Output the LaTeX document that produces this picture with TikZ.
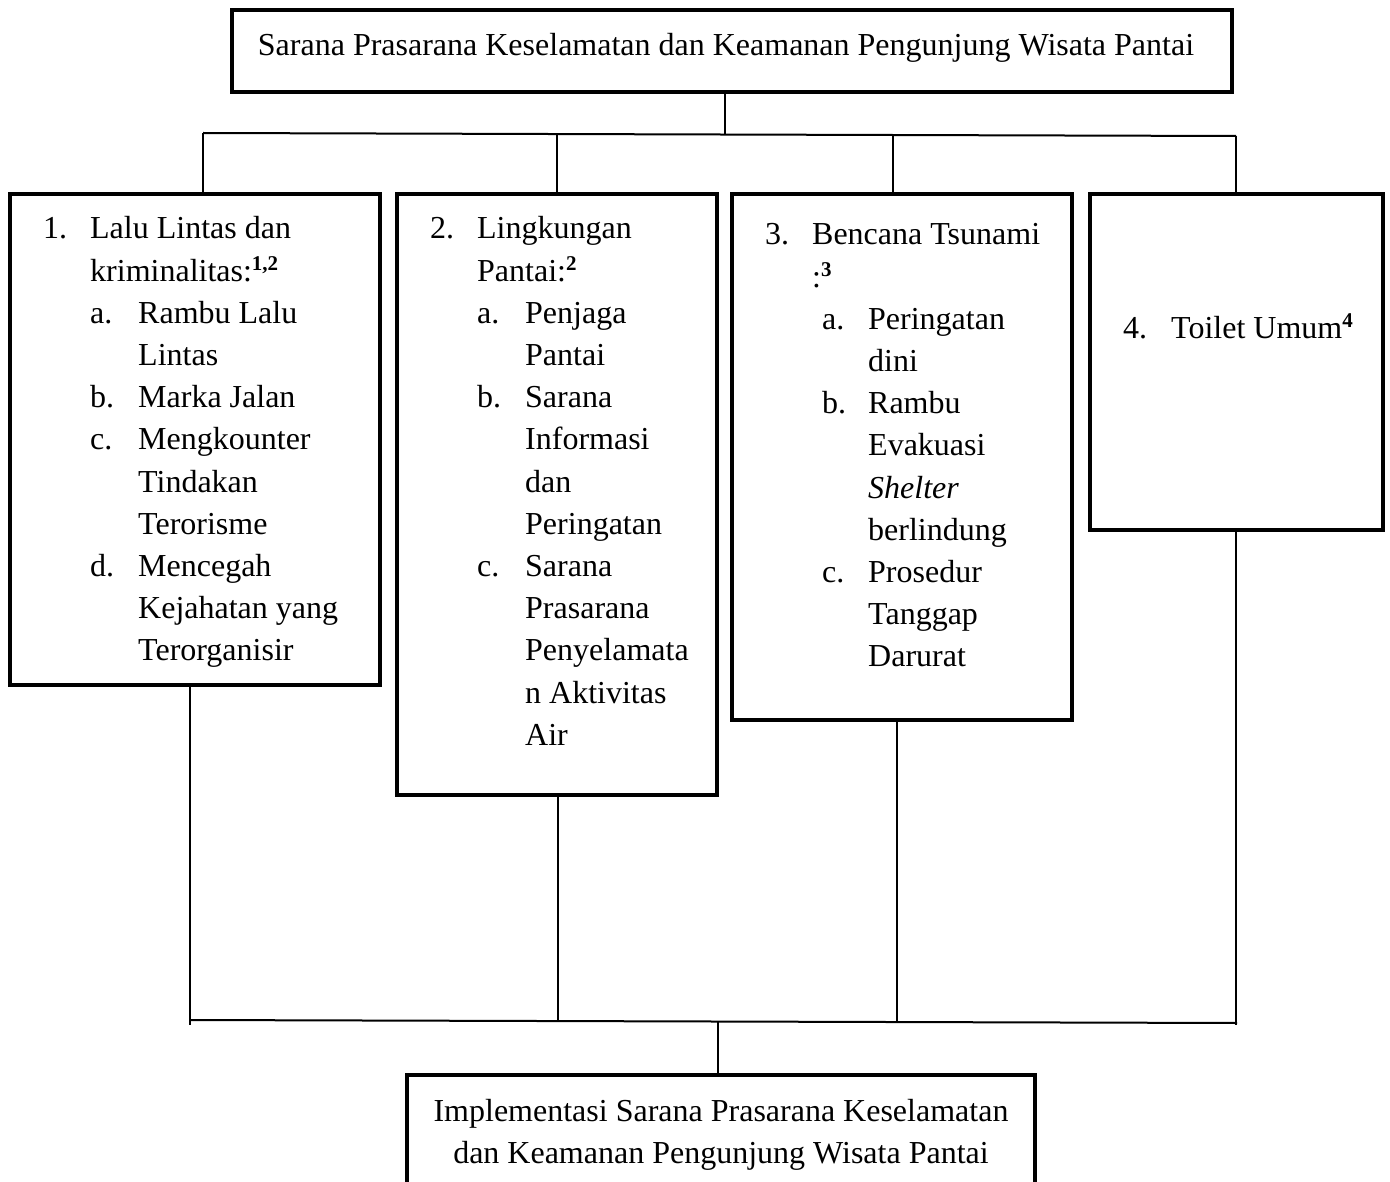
\documentclass[tikz,border=0pt]{standalone}
\usepackage{fontspec}
\setmainfont{Liberation Serif}
\usepackage{array}
\newcommand\bodyfont{\fontsize{32}{42.2}\selectfont}
\newcommand\fsup[1]{\raisebox{11pt}{\fontsize{21}{21}\selectfont\textbf{#1}}}
\newcommand\mc[1]{\multicolumn{2}{@{}l@{}}{#1}}
\begin{document}
\begin{tikzpicture}[x=1pt,y=-1pt,
  box/.style={draw, line width=4.5pt, inner sep=0pt, fill=white},
  txt/.style={anchor=base west, inner sep=0pt, font=\bodyfont},
  conn/.style={line width=1.5pt},
  hconn/.style={line width=2pt}]
\useasboundingbox (0,0) rectangle (1390,1182);
% boxes
\node[box, minimum width=1000pt, minimum height=82pt] (top) at (732,51) {};
\node[box, minimum width=370pt, minimum height=491pt] (b1) at (195,439.5) {};
\node[box, minimum width=320pt, minimum height=601pt] (b2) at (557,494.5) {};
\node[box, minimum width=340pt, minimum height=526pt] (b3) at (902,457) {};
\node[box, minimum width=293pt, minimum height=336pt] (b4) at (1236.5,362) {};
\node[box, minimum width=628pt, minimum height=175pt] (bot) at (721,1162.5) {};
% texts
\node[txt, anchor=base] (ttop) at (726,56) {Sarana Prasarana Keselamatan dan Keamanan Pengunjung Wisata Pantai};
\node[txt] (t1) at (43,239) {\begin{tabular}[t]{@{}p{47pt}@{}p{48pt}@{}l@{}}
1.&\mc{Lalu Lintas dan}\\
&\mc{kriminalitas:\fsup{1,2}}\\
&a.&Rambu Lalu\\
&&Lintas\\
&b.&Marka Jalan\\
&c.&Mengkounter\\
&&Tindakan\\
&&Terorisme\\
&d.&Mencegah\\
&&Kejahatan yang\\
&&Terorganisir
\end{tabular}};
\node[txt] (t2) at (430,239) {\begin{tabular}[t]{@{}p{47pt}@{}p{48pt}@{}l@{}}
2.&\mc{Lingkungan}\\
&\mc{Pantai:\fsup{2}}\\
&a.&Penjaga\\
&&Pantai\\
&b.&Sarana\\
&&Informasi\\
&&dan\\
&&Peringatan\\
&c.&Sarana\\
&&Prasarana\\
&&Penyelamata\\
&&n Aktivitas\\
&&Air
\end{tabular}};
\node[txt] (t3) at (765,245) {\begin{tabular}[t]{@{}p{47pt}@{}p{56pt}@{}l@{}}
3.&\mc{Bencana Tsunami}\\
&\mc{:\fsup{3}}\\
&\hspace*{10pt}a.&Peringatan\\
&&dini\\
&\hspace*{10pt}b.&Rambu\\
&&Evakuasi\\
&&\textit{Shelter}\\
&&berlindung\\
&\hspace*{10pt}c.&Prosedur\\
&&Tanggap\\
&&Darurat
\end{tabular}};
\node[txt] (t4) at (1123,339) {\makebox[48pt][l]{4.}Toilet Umum\fsup{4}};
\node[txt, anchor=base] (tbot) at (721,1121) {\begin{tabular}[t]{@{}c@{}}
Implementasi Sarana Prasarana Keselamatan\\
dan Keamanan Pengunjung Wisata Pantai
\end{tabular}};
% top connectors
\coordinate (tdown) at (725,134);
\coordinate (hl) at (203,133);
\coordinate (hr) at (1236,136);
\coordinate (d1) at (203,133);
\coordinate (d2) at (557,134);
\coordinate (d3) at (893,135);
\coordinate (d4) at (1236,136);
\draw[conn] (tdown |- top.south) -- (tdown);
\draw[hconn] (hl) -- (hr);
\draw[conn] (d1) -- (d1 |- b1.north);
\draw[conn] (d2) -- (d2 |- b2.north);
\draw[conn] (d3) -- (d3 |- b3.north);
\draw[conn] (d4) -- (d4 |- b4.north);
% bottom connectors
\coordinate (u1) at (190,1025);
\coordinate (u2) at (558,1022);
\coordinate (u3) at (897,1022);
\coordinate (u4) at (1236,1025);
\coordinate (bl) at (190,1020);
\coordinate (br) at (1237,1023);
\coordinate (bdown) at (718,1021);
\draw[conn] (u1 |- b1.south) -- (u1);
\draw[conn] (u2 |- b2.south) -- (u2);
\draw[conn] (u3 |- b3.south) -- (u3);
\draw[conn] (u4 |- b4.south) -- (u4);
\draw[hconn] (bl) -- (br);
\draw[conn] (bdown) -- (bdown |- bot.north);
\end{tikzpicture}
\end{document}
